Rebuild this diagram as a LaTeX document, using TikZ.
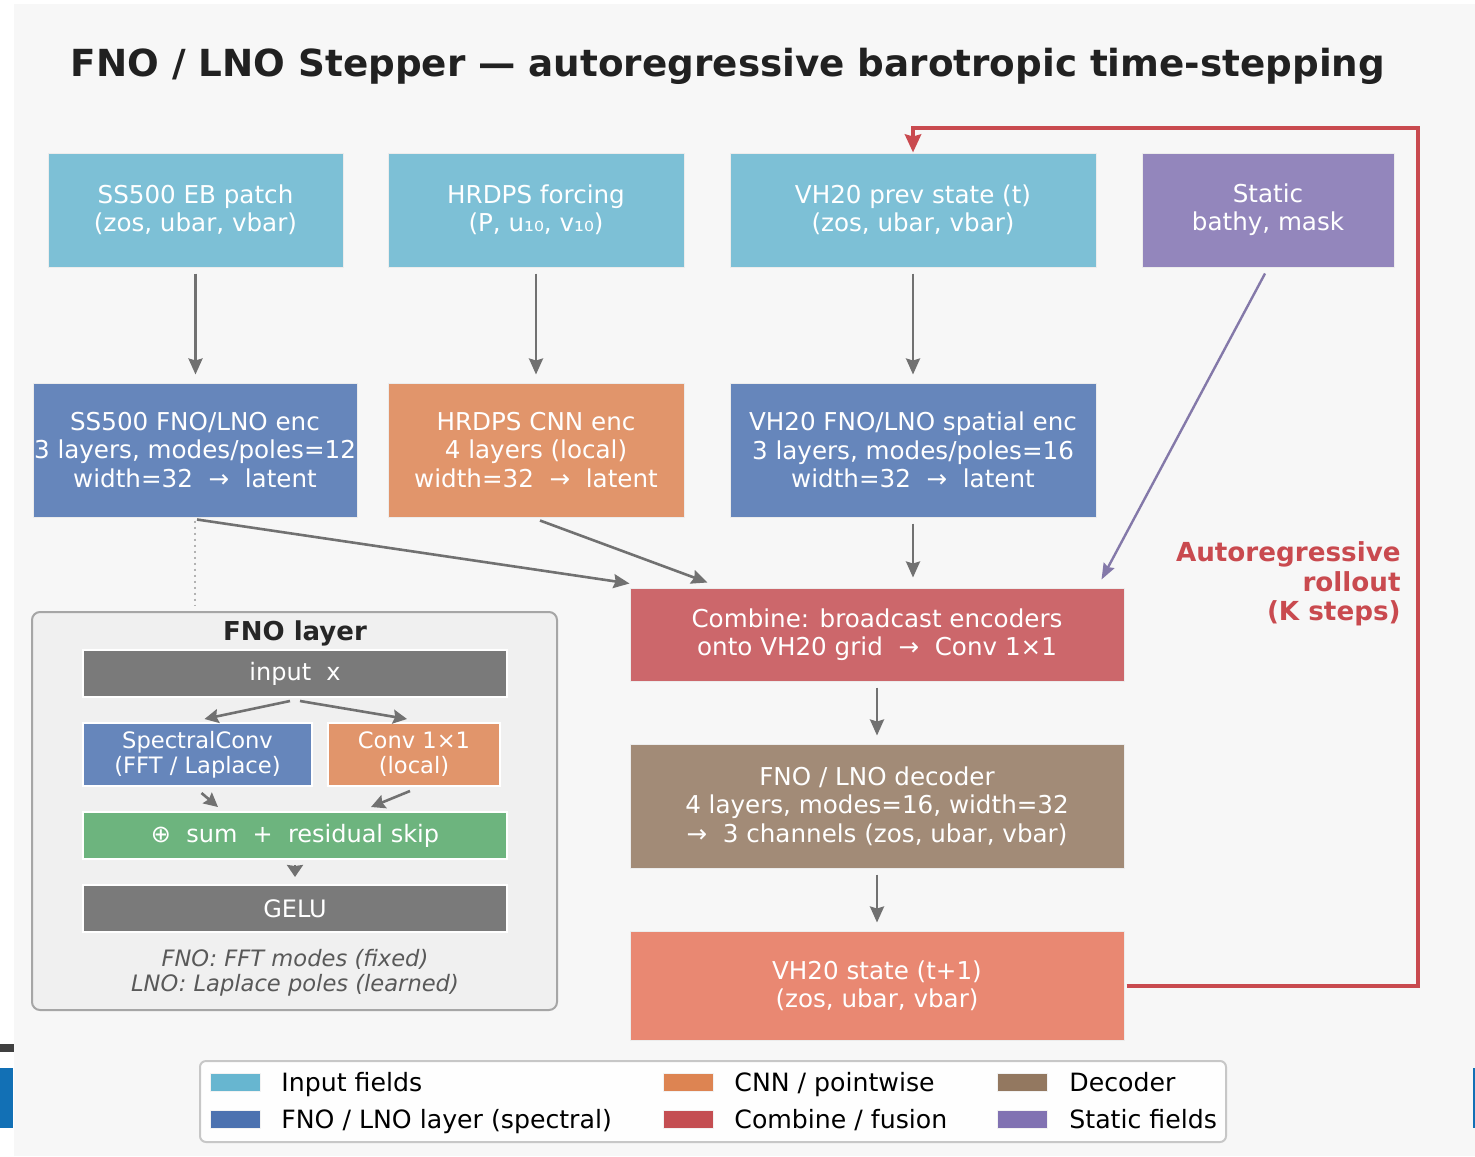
\documentclass[tikz,border=0pt]{standalone}
\usepackage{fontspec}
\setmainfont{DejaVu Sans}
\usetikzlibrary{arrows.meta,calc}
\definecolor{bgc}{HTML}{F7F7F7}
\definecolor{cIn}{HTML}{7DC0D6}
\definecolor{cFno}{HTML}{6686BB}
\definecolor{cCnn}{HTML}{E1956B}
\definecolor{cComb}{HTML}{CC676B}
\definecolor{cDec}{HTML}{A28B77}
\definecolor{cStat}{HTML}{9386BC}
\definecolor{cOut}{HTML}{E98872}
\definecolor{cGreen}{HTML}{6DB47E}
\definecolor{cGrey}{HTML}{7A7A7A}
\definecolor{cArr}{HTML}{717171}
\definecolor{cRed}{HTML}{C94A4F}
\definecolor{lIn}{HTML}{67B6D0}
\definecolor{lFno}{HTML}{4C72B0}
\definecolor{lCnn}{HTML}{DD8452}
\definecolor{lComb}{HTML}{C44E52}
\definecolor{lDec}{HTML}{937860}
\definecolor{lStat}{HTML}{8172B2}
\definecolor{artBlue}{HTML}{1270B5}
\tikzset{
  box/.style={draw=white!85!gray, line width=0.5pt, text=white, align=center, inner sep=0pt, font=\fontsize{12.3}{14.2}\selectfont},
  sbox/.style={draw=white, line width=1pt, text=white, align=center, inner sep=0pt, font=\fontsize{11.3}{12.5}\selectfont, minimum height=23.5pt},
  arr/.style={draw=cArr, line width=1.3pt, -{Stealth[length=8pt,width=7pt,inset=1pt]}},
  iarr/.style={draw=cArr, line width=1.3pt, -{Stealth[length=7pt,width=7pt,inset=1pt]}},
  parr/.style={draw=cStat!90!black, line width=1.2pt, -{Stealth[length=8pt,width=6pt,inset=1pt]}},
  fb/.style={draw=cRed, line width=2pt, -{Stealth[length=9pt,width=8pt,inset=1pt]}},
  legpatch/.style={minimum width=25pt, minimum height=9pt, inner sep=0pt, draw=white!90!gray, line width=0.3pt},
  legtxt/.style={anchor=base west, inner sep=0pt, font=\fontsize{12.6}{14}\selectfont, text=black}
}
\begin{document}
\begin{tikzpicture}[x=0.5pt,y=-0.5pt]
\useasboundingbox (0,0) rectangle (1475,1156);
\fill[white] (0,0) rectangle (1475,1156);
\fill[bgc] (14,4) rectangle (1475,1156);
% edge artifacts
\fill[black!75] (0,1044) rectangle (14,1052);
\fill[artBlue] (0,1068) rectangle (13,1128);
\fill[artBlue] (1473,1068) rectangle (1475,1128);

% title
\node[font=\bfseries\fontsize{18.65}{22}\selectfont, text=black!87] (title) at (728,66) {FNO / LNO Stepper — autoregressive barotropic time-stepping};

% top row
\node[box, fill=cIn, minimum width=147.5pt, minimum height=57pt] (ss) at (195.5,210) {SS500 EB patch\\(zos, ubar, vbar)};
\node[box, fill=cIn, minimum width=148pt, minimum height=57pt] (hr) at (536,210) {HRDPS forcing\\(P, u₁₀, v₁₀)};
\node[box, fill=cIn, minimum width=183pt, minimum height=57pt] (vp) at (913,210) {VH20 prev state (t)\\(zos, ubar, vbar)};
\node[box, fill=cStat, minimum width=126pt, minimum height=57pt] (st) at (1268,210) {Static\\bathy, mask};

% encoders
\node[box, fill=cFno, minimum width=162pt, minimum height=67pt] (sse) at (195,450) {SS500 FNO/LNO enc\\3 layers, modes/poles=12\\width=32 \ → \ latent};
\node[box, fill=cCnn, minimum width=148pt, minimum height=67pt] (hre) at (536,450) {HRDPS CNN enc\\4 layers (local)\\width=32 \ → \ latent};
\node[box, fill=cFno, minimum width=183pt, minimum height=67pt] (vpe) at (913,450) {VH20 FNO/LNO spatial enc\\3 layers, modes/poles=16\\width=32 \ → \ latent};

% combine / decoder / output
\node[box, fill=cComb, minimum width=247pt, minimum height=46.5pt] (comb) at (877,634.5) {Combine: broadcast encoders\\onto VH20 grid \ → \ Conv 1×1};
\node[box, fill=cDec, minimum width=247pt, minimum height=62pt] (dec) at (877,806) {FNO / LNO decoder\\4 layers, modes=16, width=32\\→ \ 3 channels (zos, ubar, vbar)};
\node[box, fill=cOut, minimum width=247pt, minimum height=54.5pt] (out) at (877,985.5) {VH20 state (t+1)\\(zos, ubar, vbar)};

% FNO layer panel
\node[draw=black!35, line width=1pt, fill=black!6, rounded corners=4pt, minimum width=262.5pt, minimum height=199pt, inner sep=0pt] (panel) at (294.5,811) {};
\node[font=\bfseries\fontsize{13}{15}\selectfont, text=black!85] (ptitle) at (295,633) {FNO layer};
\node[sbox, fill=cGrey, minimum width=212pt, font=\fontsize{12}{14}\selectfont] (inp) at (295,673.5) {input \ x};
\node[sbox, fill=cFno, minimum width=114.5pt, minimum height=31.5pt] (spec) at (197.5,754.5) {SpectralConv\\(FFT / Laplace)};
\node[sbox, fill=cCnn, minimum width=86pt, minimum height=31.5pt] (conv) at (414,754.5) {Conv 1×1\\(local)};
\node[sbox, fill=cGreen, minimum width=212pt, font=\fontsize{12}{14}\selectfont] (sum) at (295,835.5) {⊕ \ sum \ + \ residual skip};
\node[sbox, fill=cGrey, minimum width=212pt, font=\fontsize{12}{14}\selectfont] (gelu) at (295,908.5) {GELU};
\node[align=center, font=\itshape\fontsize{11.3}{12.4}\selectfont, text=black!65] (pnote) at (295,973) {FNO: FFT modes (fixed)\\LNO: Laplace poles (learned)};

% arrows top -> encoders
\draw[arr, shorten <=3pt, shorten >=4pt] (ss.south) -- (sse.north -| ss.south);
\draw[arr, shorten <=3pt, shorten >=4pt] (hr.south) -- (hre.north);
\draw[arr, shorten <=3pt, shorten >=4pt] (vp.south) -- (vpe.north);
\draw[parr] ($(st.south)+(-3,6)$) -- ($(comb.north east)+(-23,-8)$);

% encoders -> combine
\draw[arr] ($(sse.south)+(2,2)$) -- ($(comb.north west)+(0,-4)$);
\draw[arr] ($(hre.south)+(4,3)$) -- ($(comb.north west)+(78,-5)$);
\draw[arr, shorten <=3pt, shorten >=5pt] (vpe.south -| comb.north) ++(36,0) coordinate (vpeS) -- (vpeS |- comb.north);
\draw[arr, shorten <=3pt, shorten >=4pt] (comb.south) -- (dec.north);
\draw[arr, shorten <=3pt, shorten >=4pt] (dec.south) -- (out.north);

% dotted connection to panel
\draw[black!30, line width=1pt, dotted] ($(sse.south)+(0,3)$) -- ($(panel.north -| sse.south)+(0,-5)$);

% feedback loop
\coordinate (rt) at (1418,128);
\draw[fb] ($(out.east)+(2,0)$) -| (rt) -| (vp.north);
\node[anchor=east, align=right, inner sep=0pt, text=cRed, font=\bfseries\fontsize{13.1}{14.8}\selectfont] (lab) at (1401,584) {Autoregressive\\rollout\\(K steps)};

% panel arrows
\draw[iarr] ($(inp.south)+(-5,3)$) -- ($(spec.north)+(7,-3)$);
\draw[iarr] ($(inp.south)+(5,3)$) -- ($(conv.north)+(-7,-3)$);
\draw[iarr] ($(spec.south)+(4,6)$) -- ($(sum.north west)+(136,-4)$);
\draw[iarr] ($(conv.south)+(-4,4)$) -- ($(sum.north west)+(289,-4)$);
\draw[draw=cArr, line width=1.3pt, -{Stealth[length=6pt,width=8pt,inset=0.5pt]}] ($(sum.south)+(0,5)$) -- ($(gelu.north)+(0,-7)$);

% legend
\node[draw=black!22, line width=1pt, fill=white!99!gray, rounded corners=3pt, minimum width=513pt, minimum height=40.5pt, inner sep=0pt] (leg) at (713,1101.5) {};
\node[legpatch, fill=lIn] (p1) at (235,1082) {};
\node[legtxt] (t1) at (281,1091) {Input fields};
\node[legpatch, fill=lFno] (p2) at (235,1119) {};
\node[legtxt] (t2) at (281,1128) {FNO / LNO layer (spectral)};
\node[legpatch, fill=lCnn] (p3) at (688,1082) {};
\node[legtxt] (t3) at (734,1091) {CNN / pointwise};
\node[legpatch, fill=lComb] (p4) at (688,1119) {};
\node[legtxt] (t4) at (734,1128) {Combine / fusion};
\node[legpatch, fill=lDec] (p5) at (1022,1082) {};
\node[legtxt] (t5) at (1069,1091) {Decoder};
\node[legpatch, fill=lStat] (p6) at (1022,1119) {};
\node[legtxt] (t6) at (1069,1128) {Static fields};
\end{tikzpicture}
\end{document}
